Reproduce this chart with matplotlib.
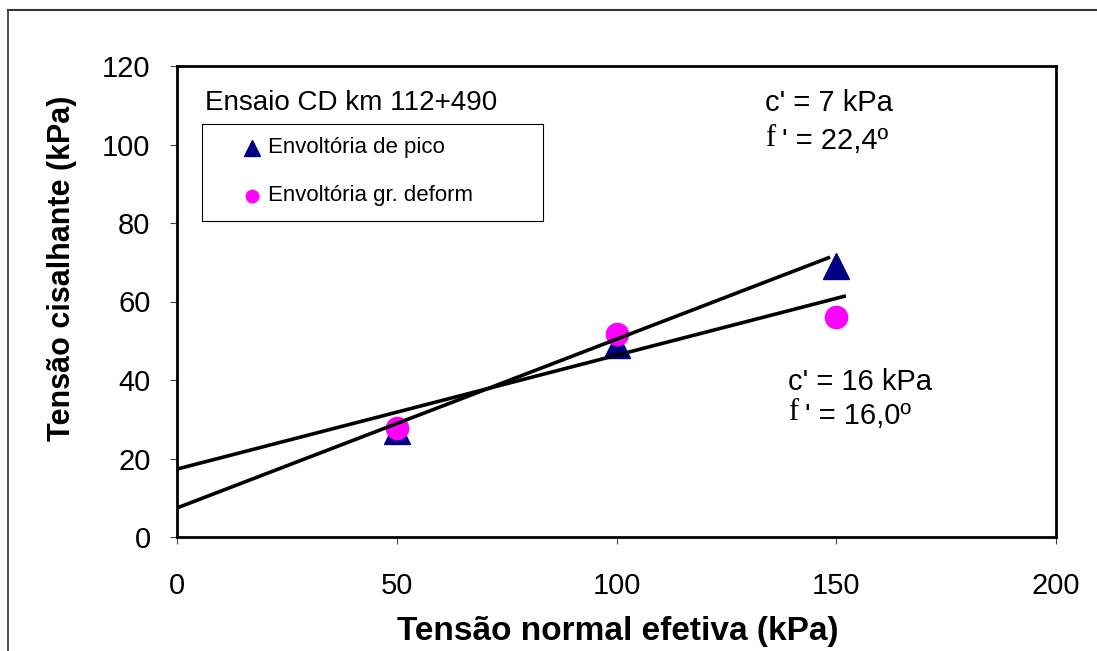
import matplotlib as mpl
from matplotlib import pyplot as plt
from matplotlib.lines import Line2D
from matplotlib.patches import Rectangle

mpl.use("Agg")

mpl.rcParams["font.family"] = "Liberation Sans"

# ensaio CD, km 112+490
sigma_n = [50, 100, 150]
tau_pico = [27, 49, 69]
tau_gr_deform = [27.8, 51.7, 56]

# envoltórias traçadas (intercepto em kPa, inclinação, extremo em sigma_n)
env_pico = {"c": 7.4, "slope": 0.43, "x_end": 148.6}
env_gr_deform = {"c": 17.3, "slope": 0.29, "x_end": 152.2}

x_ticks = [0, 50, 100, 150, 200]
y_ticks = [0, 20, 40, 60, 80, 100, 120]

W, H = 1097, 651
fig = plt.figure(figsize=(W / 100, H / 100), dpi=100)
ax = fig.add_axes([177 / W, 1 - 537 / H, 879 / W, 471 / H])


def ax_xy(px, py):
    # pixel da figura -> coordenadas do eixo
    return (px - 177) / 879, (537 - py) / 471


for env in (env_pico, env_gr_deform):
    xs = [0, env["x_end"]]
    ys = [env["c"] + env["slope"] * x for x in xs]
    ax.plot(xs, ys, color="black", lw=2.6, zorder=3, solid_capstyle="butt")

ax.plot(sigma_n, tau_pico, ls="", marker="^", ms=19, color="#000080",
        mec="#000080", zorder=2)
ax.plot(sigma_n, tau_gr_deform, ls="", marker="o", ms=16, color="#ff00ff",
        mec="#ff00ff", zorder=2.5)

ax.set_xlim(0, 200)
ax.set_ylim(0, 120)
ax.set_xticks(x_ticks)
ax.set_yticks(y_ticks)
ax.tick_params(axis="both", direction="out", length=5, width=0.8,
               color="#444444", labelsize=21)
ax.tick_params(axis="y", pad=14)
ax.tick_params(axis="x", pad=20)
for spine in ax.spines.values():
    spine.set_linewidth(2)

# caixa de legenda
x0, y0 = ax_xy(202, 221)
ax.add_patch(Rectangle((x0, y0), 341 / 879, 97 / 471,
                       transform=ax.transAxes, fill=False, lw=0.8,
                       edgecolor="black", zorder=4))
ax.plot(*ax_xy(252, 148), transform=ax.transAxes, marker="^",
        ms=11, color="#000080", clip_on=False, zorder=5)
ax.plot(*ax_xy(252, 196), transform=ax.transAxes, marker="o",
        ms=9, color="#ff00ff", clip_on=False, zorder=5)
ax.text(*ax_xy(268, 148), "Envoltória de pico", transform=ax.transAxes,
        fontsize=16, va="center", ha="left")
ax.text(*ax_xy(268, 196), "Envoltória gr. deform", transform=ax.transAxes,
        fontsize=16, va="center", ha="left")

ax.text(*ax_xy(205, 103), "Ensaio CD km 112+490", transform=ax.transAxes,
        fontsize=20, va="center", ha="left")

# parâmetros das envoltórias
params = [((765, 103), (765, 141), "c' = 7 kPa", "' = 22,4º"),
          ((788, 382), (788, 416), "c' = 16 kPa", "' = 16,0º")]
for (cx, cy), (fx, fy), c_txt, phi_txt in params:
    ax.text(*ax_xy(cx, cy), c_txt, transform=ax.transAxes,
            fontsize=21, va="center", ha="left")
    ax.text(*ax_xy(fx, fy - 3), "f", transform=ax.transAxes,
            fontsize=22, va="center", ha="left", family="Liberation Serif")
    ax.text(*ax_xy(fx + 17, fy), phi_txt, transform=ax.transAxes,
            fontsize=21, va="center", ha="left")

fig.text(62 / W, 1 - 268 / H, "Tensão cisalhante (kPa)", rotation=90,
         fontsize=22, fontweight="bold", ha="center", va="center")
fig.text(618 / W, 1 - 640 / H, "Tensão normal efetiva (kPa)",
         fontsize=24, fontweight="bold", ha="center", va="baseline")

# moldura externa
fig.add_artist(Line2D([7.5 / W, 1], [1 - 9.5 / H, 1 - 9.5 / H],
                      transform=fig.transFigure, color="#333333", lw=1.5))
fig.add_artist(Line2D([7.5 / W, 7.5 / W], [0, 1 - 9.5 / H],
                      transform=fig.transFigure, color="#333333", lw=1.2))

fig.savefig("out.png", dpi=100)
plt.close(fig)
